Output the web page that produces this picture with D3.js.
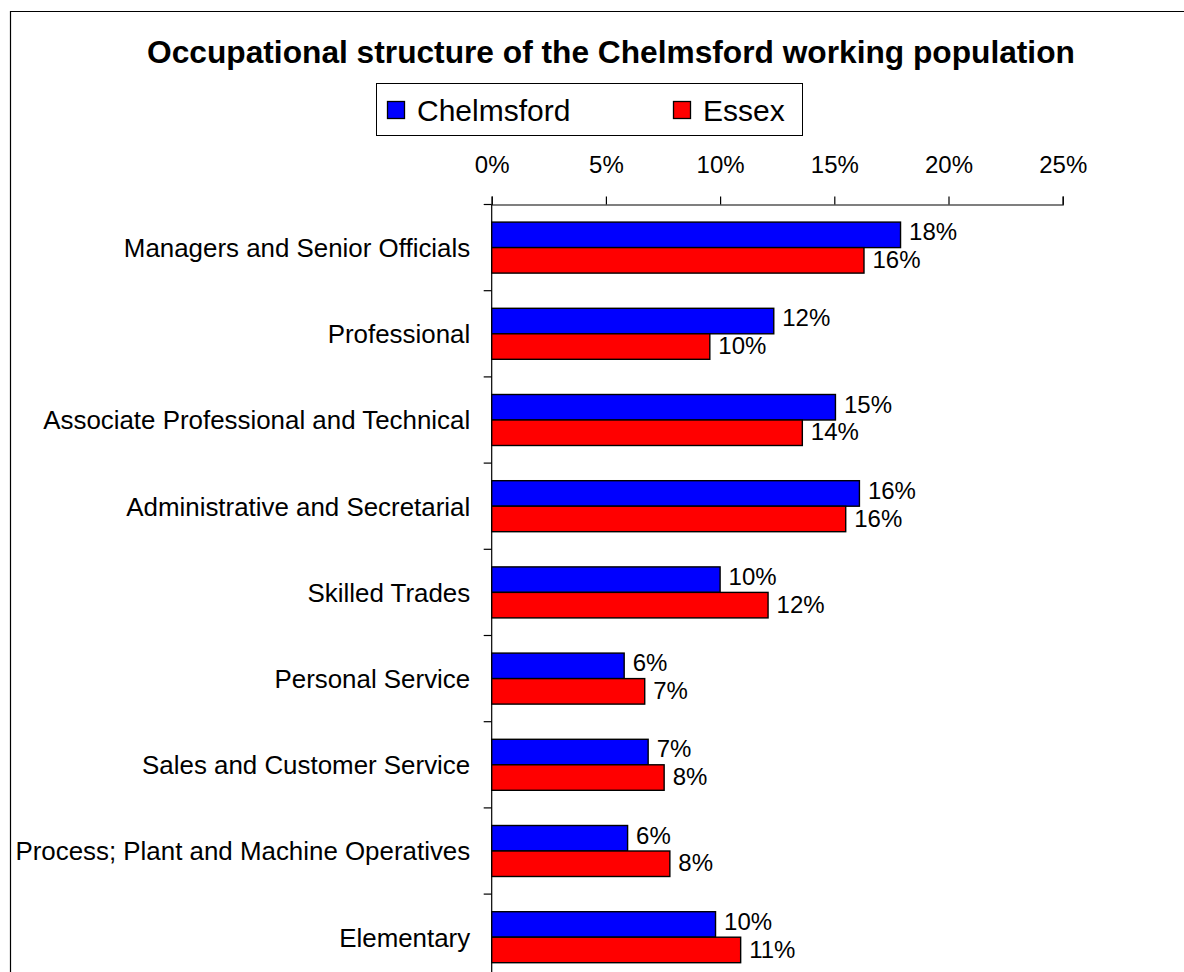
<!DOCTYPE html>
<html>
<head>
<meta charset="utf-8">
<script src="https://cdn.jsdelivr.net/npm/d3@7"></script>
<style>
  html, body { margin: 0; padding: 0; background: #fff; }
  svg text { font-family: "Liberation Sans", Arial, sans-serif; fill: #000; }
</style>
</head>
<body>
<svg id="chart" width="1184" height="972"></svg>
<script>
// chart data
const title = 'Occupational structure of the Chelmsford working population';
const categories = [
	'Managers and Senior Officials',
	'Professional',
	'Associate Professional and Technical',
	'Administrative and Secretarial',
	'Skilled Trades',
	'Personal Service',
	'Sales and Customer Service',
	'Process; Plant and Machine Operatives',
	'Elementary'
];
const seriesNames = ['Chelmsford', 'Essex'];
const chelmsford = [17.9, 12.35, 15.05, 16.1, 10.0, 5.8, 6.85, 5.95, 9.8];
const essex = [16.3, 9.55, 13.6, 15.5, 12.1, 6.7, 7.55, 7.8, 10.9];
const xTicks = [0, 5, 10, 15, 20, 25];
const colors = ['#0000ff', '#ff0000'];

let svg = d3.select('#chart');

// outer frame (only top and left edges show in the picture)
svg.append('path')
	.attr('d', 'M10.5,972V11.5H1184')
	.attr('fill', 'none')
	.attr('stroke', '#000')
	.attr('stroke-width', 1.2);

// title
svg.append('text')
	.attr('x', 611)
	.attr('y', 63)
	.attr('text-anchor', 'middle')
	.style('font-size', '31.7px')
	.style('font-weight', 'bold')
	.text(title);

// legend
let legend = svg.append('g');
legend.append('rect')
	.attr('x', 376.5).attr('y', 83.5)
	.attr('width', 426).attr('height', 52)
	.attr('fill', '#fff').attr('stroke', '#000').attr('stroke-width', 1);
let legendX = [387, 673];
seriesNames.forEach(function(name, i) {
	legend.append('rect')
		.attr('x', legendX[i] + 0.5).attr('y', 101.5)
		.attr('width', 17).attr('height', 17)
		.attr('fill', colors[i]).attr('stroke', '#000').attr('stroke-width', 1.3);
	legend.append('text')
		.attr('x', legendX[i] + 30).attr('y', 120.5)
		.style('font-size', '30px')
		.text(name);
});

// scales
let x = d3.scaleLinear()
	.domain([0, 25])
	.range([491.7, 1062.7]);

let y = d3.scaleBand()
	.domain(categories)
	.range([204.5, 204.5 + 86.2 * categories.length]);

let ySeries = d3.scaleBand()
	.domain(seriesNames)
	.range([0, y.bandwidth()])
	.paddingOuter(0.69);

// top axis with percent labels
let xAxis = svg.append('g')
	.attr('transform', 'translate(0,204.5)')
	.call(d3.axisTop(x)
		.tickValues(xTicks)
		.tickSize(8)
		.tickPadding(23.5)
		.tickFormat(d => d + '%'));
xAxis.select('.domain').attr('stroke', '#000').attr('stroke-width', 1.2);
xAxis.selectAll('.tick line').attr('stroke', '#000').attr('stroke-width', 1.2);
xAxis.selectAll('.tick text')
	.style('font-size', '24px')
	.style('font-family', '"Liberation Sans", Arial, sans-serif')
	.attr('fill', '#000');

// left axis: line, ticks between categories and labels
let yAxis = svg.append('g');
yAxis.append('line')
	.attr('x1', x(0)).attr('x2', x(0))
	.attr('y1', y.range()[0]).attr('y2', y.range()[1])
	.attr('stroke', '#000').attr('stroke-width', 1.2);
yAxis.selectAll('.cat-tick')
	.data(categories)
	.enter().append('line')
	.attr('class', 'cat-tick')
	.attr('x1', x(0) - 8).attr('x2', x(0))
	.attr('y1', d => y(d)).attr('y2', d => y(d))
	.attr('stroke', '#000').attr('stroke-width', 1.2);
yAxis.selectAll('.cat-label')
	.data(categories)
	.enter().append('text')
	.attr('class', 'cat-label')
	.attr('x', x(0) - 21.5)
	.attr('y', d => y(d) + y.bandwidth() / 2)
	.attr('dy', '0.36em')
	.attr('text-anchor', 'end')
	.style('font-size', '25.9px')
	.text(d => d);

// bars
let data = [];
categories.forEach(function(cat, i) {
	data.push({cat: cat, series: seriesNames[0], value: chelmsford[i], color: colors[0]});
	data.push({cat: cat, series: seriesNames[1], value: essex[i], color: colors[1]});
});

let bars = svg.append('g');
bars.selectAll('rect')
	.data(data)
	.enter().append('rect')
	.attr('x', x(0))
	.attr('y', d => y(d.cat) + ySeries(d.series))
	.attr('width', d => x(d.value) - x(0))
	.attr('height', ySeries.bandwidth())
	.attr('fill', d => d.color)
	.attr('stroke', '#000')
	.attr('stroke-width', 1.4);

// value labels
bars.selectAll('text')
	.data(data)
	.enter().append('text')
	.attr('x', d => x(d.value) + 8.5)
	.attr('y', d => y(d.cat) + ySeries(d.series) + ySeries.bandwidth() / 2)
	.attr('dy', d => d.series === seriesNames[0] ? '0.22em' : '0.32em')
	.style('font-size', '24px')
	.text(d => d3.format('.0f')(d.value) + '%');
</script>
</body>
</html>
